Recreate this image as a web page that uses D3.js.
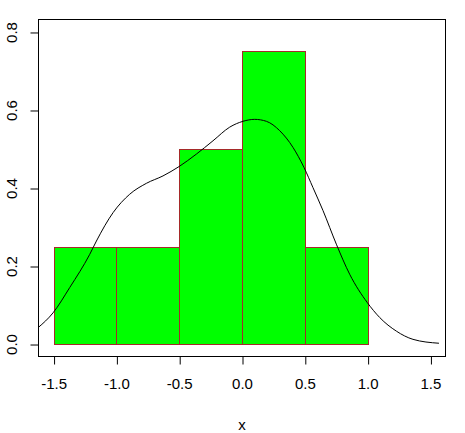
<!DOCTYPE html>
<html>
<head>
<meta charset="utf-8">
<script src="https://cdn.jsdelivr.net/npm/d3@7"></script>
<style>
  body { margin: 0; background: #fff; }
  svg { display: block; font-family: "Liberation Sans", Arial, sans-serif; }
  .tick-label { font-size: 15px; fill: #000; }
  .bar { fill: #00ff00; stroke: #a52a2a; stroke-width: 1; }
  .dens { fill: none; stroke: #000; stroke-width: 1; }
</style>
</head>
<body>
<div id="chart"></div>
<script>
// histogram bins (density scale)
const binStarts = [-1.5, -1.0, -0.5, 0.0, 0.5]
const binWidth = 0.5
const binDensity = [0.25, 0.25, 0.5, 0.75, 0.25]

// density curve
const densX = [-1.623, -1.504, -1.371, -1.212, -1.159, -1.026, -0.894, -0.761, -0.629, -0.501,
  -0.363, -0.231, -0.098, 0.008, 0.101, 0.194, 0.300, 0.406, 0.493, 0.565,
  0.645, 0.751, 0.857, 0.998, 1.096, 1.229, 1.361, 1.568]
const densY = [0.042, 0.080, 0.145, 0.230, 0.264, 0.337, 0.384, 0.412, 0.431, 0.455,
  0.487, 0.521, 0.556, 0.571, 0.576, 0.571, 0.547, 0.504, 0.453, 0.401,
  0.342, 0.256, 0.179, 0.106, 0.068, 0.033, 0.012, 0.002]

const xTicks = [-1.5, -1.0, -0.5, 0.0, 0.5, 1.0, 1.5]
const yTicks = [0.0, 0.2, 0.4, 0.6, 0.8]

//consts
const
  width = 465,
  height = 433,
  boxLeft = 38.5,
  boxRight = 445.5,
  boxTop = 19.5,
  boxBottom = 356.5,
  tickLen = 8

//scales, R style 4% extension
const x = d3.scaleLinear().domain([-1.62, 1.62]).range([boxLeft, boxRight])
const y = d3.scaleLinear().domain([-0.032, 0.832]).range([boxBottom, boxTop])

const svg = d3.select('#chart')
  .append('svg')
  .attr('width', width)
  .attr('height', height)

svg.append('defs')
  .append('clipPath')
  .attr('id', 'plot-clip')
  .append('rect')
  .attr('x', boxLeft).attr('y', boxTop)
  .attr('width', boxRight - boxLeft).attr('height', boxBottom - boxTop)

//bars
svg.append('g')
  .selectAll('rect')
  .data(binStarts.map((s, i) => ({ s, d: binDensity[i] })))
  .enter()
  .append('rect')
  .attr('class', 'bar')
  .attr('x', d => Math.round(x(d.s)) + 0.5)
  .attr('y', d => Math.round(y(d.d)) + 0.5)
  .attr('width', d => Math.round(x(d.s + binWidth)) - Math.round(x(d.s)))
  .attr('height', d => Math.round(y(0)) - Math.round(y(d.d)))

//density line
const line = d3.line()
  .x(d => x(d[0]))
  .y(d => y(d[1]))
  .curve(d3.curveMonotoneX)
svg.append('path')
  .attr('class', 'dens')
  .attr('clip-path', 'url(#plot-clip)')
  .attr('d', line(densX.map((v, i) => [v, densY[i]])))

//box
svg.append('rect')
  .attr('x', boxLeft).attr('y', boxTop)
  .attr('width', boxRight - boxLeft).attr('height', boxBottom - boxTop)
  .attr('fill', 'none')
  .attr('stroke', '#000')

//x axis
const xAxis = svg.append('g')
  .attr('transform', 'translate(0,' + boxBottom + ')')
  .call(d3.axisBottom(x).tickValues(xTicks).tickSize(tickLen).tickPadding(14).tickFormat(d3.format('.1f')))
xAxis.select('.domain').remove()
xAxis.selectAll('line').attr('transform', 'translate(0.5,0)')
xAxis.selectAll('text')
  .attr('class', 'tick-label')
  .attr('font-size', null).attr('font-family', null)
  .text(d => d3.format('.1f')(d).replace('−', '-'))

//y axis
const yAxis = svg.append('g')
  .attr('transform', 'translate(' + boxLeft + ',0)')
  .call(d3.axisLeft(y).tickValues(yTicks).tickSize(tickLen).tickFormat(d3.format('.1f')))
yAxis.select('.domain').remove()
yAxis.selectAll('line').attr('transform', 'translate(0,0.5)')
yAxis.selectAll('text')
  .attr('class', 'tick-label')
  .attr('font-size', null).attr('font-family', null)
  .attr('x', null).attr('dy', null)
  .attr('transform', 'translate(' + (17 - boxLeft) + ',0) rotate(-90)')
  .attr('text-anchor', 'middle')

//axis title
svg.append('text')
  .attr('class', 'tick-label')
  .attr('x', x(0))
  .attr('y', 430)
  .attr('text-anchor', 'middle')
  .text('x')
</script>
</body>
</html>
